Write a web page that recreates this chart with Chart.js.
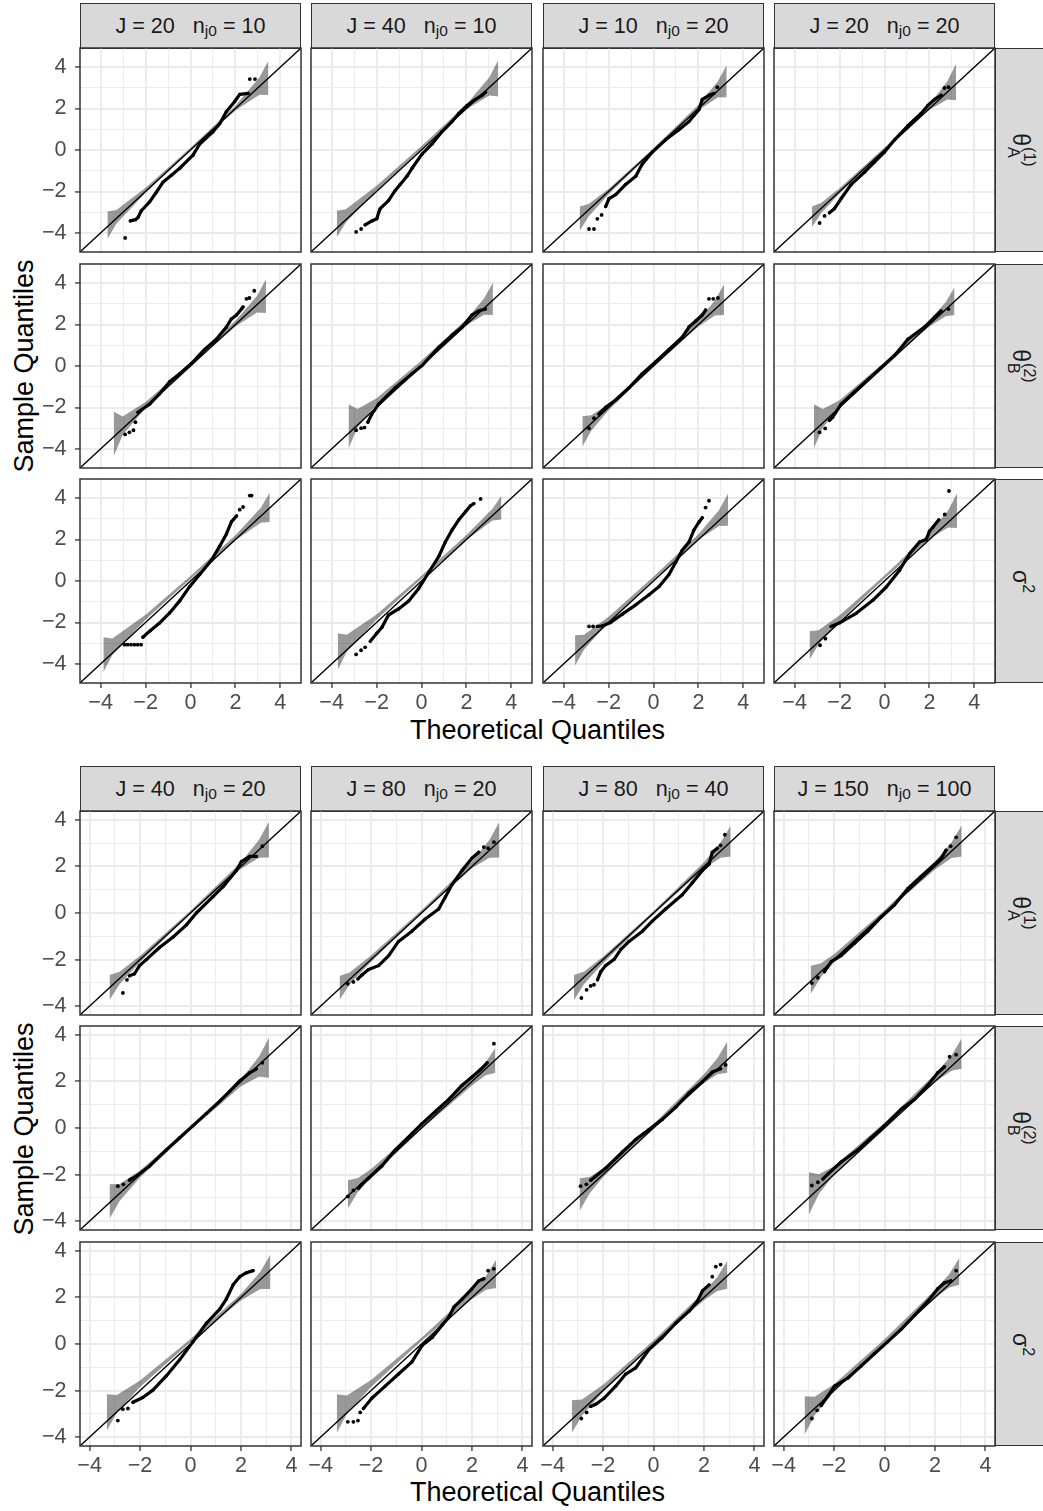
<!DOCTYPE html>
<html>
<head>
<meta charset="utf-8">
<title>Normal QQ plots of standardized estimates</title>
<script src="https://cdn.jsdelivr.net/npm/chart.js@4.4.1/dist/chart.umd.min.js"></script>
<style>
  html, body { margin: 0; padding: 0; background: #ffffff; }
  #page { position: relative; width: 1043px; height: 1511px; overflow: hidden; background: #ffffff;
          font-family: "Liberation Sans", Arial, Helvetica, sans-serif; }
  #page canvas { position: absolute; }
  .strip { position: absolute; box-sizing: border-box; background: #d9d9d9; border: 1.5px solid #333333;
           color: #1a1a1a; display: flex; align-items: center; justify-content: center; }
  .colstrip { font-size: 21.6px; white-space: pre; }
  .colstrip .sb { font-size: 15.5px; position: relative; top: 5px; }
  .rowlab { transform: rotate(90deg); font-size: 23px; white-space: nowrap; display: flex; align-items: center; }
  .ss { display: inline-flex; flex-direction: column; font-size: 16px; line-height: 1.0; margin-left: 1px; }
  .rowlab .sp { font-size: 16px; position: relative; top: -8px; }
  .axtitle { position: absolute; font-size: 27px; color: #000000; line-height: 27px; white-space: nowrap; }
</style>
</head>
<body>
<div id="page"></div>
<script>
// ---- facet headers ----
const TOP_J = [20, 40, 10, 20];
const TOP_NJ0 = [10, 10, 20, 20];
const BOTTOM_J = [40, 80, 80, 150];
const BOTTOM_NJ0 = [20, 20, 40, 100];
const ROW_LABELS = [
  'θ<span class="ss"><span>(1)</span><span>A</span></span>',
  'θ<span class="ss"><span>(2)</span><span>B</span></span>',
  'σ<span class="sp">2</span>'
];
const AXIS_TICKS = [-4, -3, -2, -1, 0, 1, 2, 3, 4];
const TOP_RANGE = [-4.92, 4.92];
const BOTTOM_RANGE = [-4.38, 4.38];
const REFERENCE_LINE = [-6, 6];   // y = x

// ---- upper block: theta_A^(1) ----
const TOP_A_CURVE = [
  [[-2.68,-3.42],[-2.45,-3.36],[-2.34,-3.26],[-2.19,-2.93],[-1.82,-2.5],[-1.53,-2.05],[-1.23,-1.56],[-0.85,-1.22],[-0.48,-0.88],[0.11,-0.25],[0.41,0.29],[1.0,0.88],[1.30,1.27],[1.60,1.86],[1.97,2.34],[2.19,2.68],[2.57,2.73]],
  [[-2.51,-3.61],[-2.21,-3.42],[-1.99,-3.32],[-1.91,-3.03],[-1.84,-2.83],[-1.47,-2.44],[-1.17,-1.95],[-0.95,-1.66],[-0.65,-1.27],[-0.42,-0.88],[0.02,-0.2],[0.47,0.29],[0.91,0.88],[1.36,1.37],[1.66,1.76],[2.03,2.15],[2.40,2.44],[2.70,2.64],[2.85,2.79]],
  [[-2.13,-2.73],[-1.98,-2.34],[-1.68,-2.15],[-1.24,-1.66],[-0.79,-1.27],[-0.50,-0.68],[-0.05,-0.10],[0.54,0.49],[1.13,0.98],[1.58,1.37],[1.80,1.66],[2.03,1.95],[2.17,2.44],[2.47,2.64],[2.69,2.73]],
  [[-2.45,-3.03],[-2.23,-2.83],[-1.93,-2.34],[-1.48,-1.66],[-0.89,-1.07],[-0.45,-0.59],[0,-0.1],[0.45,0.49],[1.04,1.17],[1.63,1.76],[1.93,2.15],[2.23,2.44],[2.52,2.64]]
];
const TOP_A_DOTS = [
  [[-2.91,-4.24],[2.64,3.42],[2.87,3.42]],
  [[-2.91,-3.95],[-2.69,-3.81]],
  [[-2.87,-3.81],[-2.65,-3.81],[-2.5,-3.32],[-2.31,-3.13],[2.84,3.03]],
  [[-2.89,-3.52],[-2.67,-3.18],[2.67,2.99],[2.85,3.03]]
];
const TOP_A_BAND_X = [
  [-3.70,-3.30,-2,0,2,3.07,3.47], [-3.77,-3.37,-2,0,2,3.02,3.42],
  [-3.29,-2.89,-2,0,2,2.86,3.26], [-3.23,-2.83,-2,0,2,2.79,3.19]
];
const TOP_A_BAND_LO = [
  [-4.29,-3.56,-2.06,-0.03,1.90,2.67,2.65], [-4.21,-3.50,-1.96,0.05,1.96,2.63,2.58],
  [-3.91,-3.21,-2.14,-0.05,1.92,2.53,2.54], [-3.71,-3.06,-2.10,-0.02,1.94,2.43,2.40]
];
const TOP_A_BAND_HI = [
  [-2.97,-2.90,-1.82,0.11,2.14,3.51,4.31], [-2.93,-2.86,-1.72,0.19,2.20,3.51,4.34],
  [-2.73,-2.61,-1.88,0.09,2.18,3.31,4.10], [-2.73,-2.56,-1.84,0.12,2.20,3.31,4.16]
];

// ---- upper block: theta_B^(2) ----
const TOP_B_CURVE = [
  [[-2.34,-2.23],[-1.82,-1.84],[-1.38,-1.35],[-0.93,-0.76],[-0.48,-0.37],[0.04,0.12],[0.63,0.80],[1.15,1.29],[1.60,1.88],[1.82,2.27],[2.05,2.46],[2.27,2.75],[2.34,2.85]],
  [[-2.39,-2.71],[-2.21,-2.32],[-1.91,-1.84],[-1.17,-1.05],[-0.42,-0.37],[0.02,0.02],[0.77,0.90],[1.36,1.48],[1.81,1.88],[2.25,2.46],[2.55,2.66],[2.85,2.75]],
  [[-2.43,-2.32],[-2.13,-1.99],[-1.68,-1.64],[-1.09,-1.05],[-0.50,-0.37],[0.10,0.21],[0.69,0.80],[1.28,1.39],[1.58,1.88],[1.88,2.17],[2.17,2.46],[2.32,2.70]],
  [[-2.45,-2.62],[-2.3,-2.46],[-1.93,-1.84],[-1.34,-1.25],[-0.74,-0.66],[-0.15,-0.08],[0.45,0.51],[1.04,1.29],[1.78,1.88],[2.23,2.36],[2.52,2.66]]
];
const TOP_B_DOTS = [
  [[-2.91,-3.3],[-2.72,-3.2],[-2.54,-3.1],[-2.45,-2.71],[2.49,3.24],[2.62,3.28],[2.84,3.63]],
  [[-2.91,-3.1],[-2.69,-3.0],[-2.54,-2.97]],
  [[-2.87,-3.01],[-2.65,-2.52],[2.47,3.24],[2.66,3.24],[2.87,3.28]],
  [[-2.89,-3.20],[-2.64,-3.01],[2.85,2.75]]
];
const TOP_B_BAND_X = [
  [-3.42,-3.02,-2,0,2,2.96,3.36], [-3.25,-2.85,-2,0,2,2.78,3.18],
  [-3.17,-2.77,-2,0,2,2.74,3.14], [-3.15,-2.75,-2,0,2,2.72,3.12]
];
const TOP_B_BAND_LO = [
  [-4.35,-3.33,-2.02,0.01,1.90,2.58,2.56], [-3.98,-2.97,-1.86,0.13,1.96,2.47,2.46],
  [-3.90,-3.12,-2.13,-0.03,1.91,2.43,2.46], [-3.98,-2.98,-1.97,0.05,1.90,2.40,2.46]
];
const TOP_B_BAND_HI = [
  [-2.19,-2.43,-1.74,0.15,2.18,3.38,4.18], [-1.84,-2.07,-1.56,0.27,2.26,3.25,4.02],
  [-2.42,-2.38,-1.83,0.11,2.21,3.17,3.94], [-1.84,-2.08,-1.65,0.19,2.20,3.08,3.80]
];

// ---- upper block: sigma^2 ----
const TOP_S_CURVE = [
  [[-2.12,-2.71],[-1.82,-2.42],[-1.38,-2.03],[-0.93,-1.54],[-0.48,-0.96],[-0.04,-0.27],[0.41,0.31],[0.93,1.0],[1.30,1.68],[1.60,2.27],[1.82,2.85],[2.05,3.14]],
  [[-2.28,-2.91],[-1.99,-2.52],[-1.76,-2.23],[-1.47,-1.64],[-1.02,-1.35],[-0.57,-0.96],[-0.13,-0.37],[0.32,0.41],[0.77,1.19],[1.06,1.88],[1.36,2.46],[1.66,2.95],[1.96,3.34],[2.18,3.63],[2.33,3.73]],
  [[-2.5,-2.19],[-2.28,-2.17],[-1.91,-2.0],[-1.39,-1.6],[-0.79,-1.15],[-0.20,-0.66],[0.25,-0.27],[0.69,0.31],[0.99,0.90],[1.28,1.48],[1.58,1.88],[1.80,2.46],[2.03,2.85],[2.17,3.05]],
  [[-2.38,-2.19],[-2.0,-2.02],[-1.26,-1.56],[-0.52,-0.93],[0.08,-0.29],[0.67,0.52],[1.12,1.32],[1.56,1.88],[1.86,2.0],[2.0,2.4],[2.16,2.6],[2.42,2.95]]
];
const TOP_S_DOTS = [
  [[-2.94,-3.07],[-2.8,-3.07],[-2.65,-3.07],[-2.5,-3.07],[-2.35,-3.07],[-2.2,-3.07],[2.19,3.44],[2.34,3.57],[2.64,4.12],[2.72,4.12]],
  [[-2.91,-3.54],[-2.69,-3.34],[-2.51,-3.2],[2.63,3.96]],
  [[-2.87,-2.19],[-2.69,-2.19],[2.32,3.54],[2.47,3.87]],
  [[-2.87,-3.10],[-2.63,-2.78],[2.68,3.21],[2.87,4.34]]
];
const TOP_S_BAND_X = [
  [-3.88,-3.48,-2,0,2,3.13,3.53], [-3.73,-3.33,-2,0,2,3.16,3.56],
  [-3.49,-3.09,-2,0,2,2.92,3.32], [-3.34,-2.94,-2,0,2,2.83,3.23]
];
const TOP_S_BAND_LO = [
  [-4.39,-3.57,-1.87,0.10,1.97,2.81,2.85], [-4.28,-3.43,-1.86,0.11,1.98,2.92,2.97],
  [-4.08,-3.31,-1.99,0.06,1.99,2.65,2.66], [-3.80,-3.06,-1.93,0.12,2.03,2.58,2.56]
];
const TOP_S_BAND_HI = [
  [-2.71,-2.77,-1.63,0.24,2.21,3.53,4.27], [-2.52,-2.59,-1.62,0.25,2.22,3.49,4.11],
  [-2.62,-2.59,-1.73,0.20,2.25,3.43,4.22], [-2.42,-2.38,-1.65,0.26,2.31,3.40,4.22]
];

// ---- lower block: theta_A^(1) ----
const BOT_A_CURVE = [
  [[-2.42,-2.70],[-2.22,-2.61],[-2.02,-2.26],[-1.75,-2.0],[-1.23,-1.48],[-0.70,-1.04],[-0.17,-0.52],[0.23,0],[0.89,0.70],[1.29,1.13],[1.82,1.83],[2.02,2.21],[2.35,2.43],[2.61,2.43]],
  [[-2.52,-2.83],[-2.36,-2.66],[-2.10,-2.43],[-1.70,-2.26],[-1.30,-1.83],[-0.91,-1.22],[-0.38,-0.78],[0.15,-0.26],[0.68,0.17],[0.95,0.70],[1.21,1.22],[1.61,1.83],[2.0,2.35],[2.27,2.61]],
  [[-2.22,-2.87],[-2.09,-2.52],[-1.90,-2.26],[-1.57,-2.0],[-1.30,-1.57],[-0.97,-1.22],[-0.44,-0.78],[-0.05,-0.35],[0.48,0.17],[1.14,0.78],[1.54,1.30],[1.94,1.83],[2.20,2.09],[2.33,2.61],[2.53,2.78]],
  [[-2.38,-2.52],[-2.11,-2.09],[-1.72,-1.83],[-1.19,-1.30],[-0.66,-0.78],[-0.13,-0.17],[0.40,0.35],[0.92,1.04],[1.45,1.57],[1.98,2.09],[2.25,2.35],[2.44,2.70]]
];
const BOT_A_DOTS = [
  [[-2.68,-3.43],[-2.52,-2.87],[2.85,2.87]],
  [[-2.92,-3.04],[-2.70,-2.96],[2.47,2.83],[2.64,2.78],[2.87,3.04]],
  [[-2.86,-3.65],[-2.65,-3.30],[-2.49,-3.13],[-2.36,-3.08],[2.66,2.90],[2.83,3.36]],
  [[-2.88,-3.01],[-2.64,-2.78],[2.62,2.87],[2.84,3.25]]
];
const BOT_A_BAND_X = [
  [-3.21,-2.81,-2,0,2,2.71,3.11], [-3.25,-2.85,-2,0,2,2.69,3.09],
  [-3.15,-2.75,-2,0,2,2.66,3.06], [-2.93,-2.53,-2,0,2,2.66,3.06]
];
const BOT_A_BAND_LO = [
  [-3.74,-3.06,-2.12,-0.04,1.90,2.37,2.38], [-3.74,-3.07,-2.09,-0.02,1.92,2.37,2.38],
  [-3.74,-3.05,-2.16,-0.06,1.90,2.37,2.43], [-3.48,-2.77,-2.11,-0.02,1.87,2.36,2.43]
];
const BOT_A_BAND_HI = [
  [-2.66,-2.52,-1.84,0.10,2.18,3.13,3.92], [-2.70,-2.55,-1.83,0.12,2.20,3.13,3.92],
  [-2.66,-2.51,-1.88,0.08,2.18,3.03,3.75], [-2.26,-2.17,-1.77,0.12,2.21,3.04,3.77]
];

// ---- lower block: theta_B^(2) ----
const BOT_B_CURVE = [
  [[-2.42,-2.24],[-2.15,-2.07],[-1.62,-1.63],[-0.96,-0.94],[-0.43,-0.42],[0.10,0.10],[0.63,0.63],[1.16,1.15],[1.56,1.58],[1.95,2.02],[2.35,2.37],[2.61,2.54]],
  [[-2.50,-2.59],[-2.36,-2.42],[-2.10,-2.16],[-1.57,-1.63],[-1.04,-0.94],[-0.38,-0.24],[0.02,0.19],[0.55,0.71],[1.08,1.23],[1.61,1.84],[2.0,2.19],[2.33,2.50],[2.60,2.80]],
  [[-2.49,-2.24],[-2.29,-2.07],[-1.90,-1.73],[-1.23,-1.03],[-0.71,-0.50],[-0.18,-0.07],[0.35,0.37],[0.88,0.89],[1.41,1.50],[1.93,1.98],[2.33,2.40],[2.66,2.54]],
  [[-2.44,-2.19],[-2.25,-1.98],[-1.72,-1.46],[-1.06,-0.94],[-0.53,-0.42],[0,0.10],[0.66,0.80],[1.19,1.23],[1.72,1.84],[2.11,2.37],[2.38,2.63]]
];
const BOT_B_DOTS = [
  [[-2.88,-2.50],[-2.66,-2.42],[2.85,2.80]],
  [[-2.92,-2.94],[-2.70,-2.68],[2.87,3.62]],
  [[-2.89,-2.50],[-2.66,-2.42],[2.86,2.71]],
  [[-2.88,-2.47],[-2.64,-2.33],[2.58,3.06],[2.84,3.15]]
];
const BOT_B_BAND_X = [
  [-3.21,-2.81,-2,0,2,2.71,3.11], [-2.92,-2.52,-2,0,2,2.53,2.93],
  [-2.93,-2.53,-2,0,2,2.53,2.93], [-3.00,-2.60,-2,0,2,2.66,3.06]
];
const BOT_B_BAND_LO = [
  [-3.90,-3.14,-2.13,-0.09,1.79,2.20,2.16], [-3.46,-2.75,-2.12,-0.04,1.82,2.25,2.37],
  [-3.56,-2.80,-2.11,0.03,1.93,2.31,2.37], [-3.72,-2.83,-2.00,0.09,1.97,2.46,2.54]
];
const BOT_B_BAND_HI = [
  [-2.42,-2.40,-1.83,0.05,2.09,3.06,3.88], [-2.24,-2.15,-1.76,0.10,2.18,2.79,3.45],
  [-2.16,-2.10,-1.73,0.17,2.31,2.99,3.73], [-1.90,-1.99,-1.64,0.23,2.31,3.12,3.84]
];

// ---- lower block: sigma^2 ----
const BOT_S_CURVE = [
  [[-2.28,-2.50],[-1.89,-2.30],[-1.49,-1.98],[-0.96,-1.37],[-0.43,-0.68],[0.10,0.10],[0.63,0.89],[1.16,1.50],[1.42,1.93],[1.69,2.54],[1.95,2.89],[2.22,3.06],[2.48,3.15]],
  [[-2.30,-2.77],[-1.97,-2.33],[-1.44,-1.81],[-0.91,-1.29],[-0.38,-0.77],[0.02,-0.07],[0.42,0.28],[0.81,0.80],[1.08,1.15],[1.28,1.58],[1.61,1.93],[2.0,2.37],[2.27,2.71],[2.47,2.80]],
  [[-2.49,-2.68],[-2.29,-2.59],[-1.96,-2.33],[-1.50,-1.81],[-1.10,-1.29],[-0.71,-1.03],[-0.18,-0.24],[0.35,0.28],[0.88,0.89],[1.41,1.41],[1.74,1.84],[1.94,2.28],[2.20,2.54]],
  [[-2.51,-2.64],[-2.25,-2.24],[-1.98,-1.81],[-1.45,-1.46],[-0.92,-0.94],[-0.40,-0.42],[0.13,0.10],[0.66,0.63],[1.19,1.23],[1.72,1.84],[2.11,2.37],[2.38,2.63],[2.64,2.71]]
];
const BOT_S_DOTS = [
  [[-2.88,-3.29],[-2.68,-2.80],[-2.48,-2.77]],
  [[-2.92,-3.34],[-2.70,-3.34],[-2.52,-3.29],[-2.43,-2.94],[2.64,3.15],[2.87,3.23]],
  [[-2.86,-3.20],[-2.65,-2.94],[2.33,2.89],[2.47,3.32],[2.66,3.41]],
  [[-2.88,-3.20],[-2.67,-2.85],[2.84,3.15]]
];
const BOT_S_BAND_X = [
  [-3.32,-2.92,-2,0,2,2.77,3.17], [-3.36,-2.96,-2,0,2,2.56,2.96],
  [-3.24,-2.84,-2,0,2,2.53,2.93], [-3.17,-2.77,-2,0,2,2.57,2.97]
];
const BOT_S_BAND_LO = [
  [-3.72,-2.95,-1.85,0.08,1.87,2.36,2.36], [-3.82,-3.01,-1.85,0.13,1.93,2.33,2.40],
  [-3.82,-3.08,-2.05,0.01,1.88,2.28,2.37], [-3.90,-3.06,-2.05,0.06,1.98,2.43,2.54]
];
const BOT_S_BAND_HI = [
  [-2.16,-2.19,-1.57,0.22,2.15,3.10,3.84], [-2.16,-2.21,-1.55,0.27,2.27,2.93,3.62],
  [-2.42,-2.38,-1.75,0.15,2.24,2.88,3.59], [-2.24,-2.26,-1.73,0.20,2.32,3.01,3.70]
];

// ---- page layout ----
const page = document.getElementById('page');
const PANEL_LEFT = [80, 311, 543, 774];
const PANEL_W = 221, PANEL_H = 204;
const PAD = 10, Y_AXIS_W = 80, X_AXIS_H = 40, STRIP = 45;

Chart.defaults.font.family = '"Liberation Sans", Arial, Helvetica, sans-serif';

const BLOCKS = [
  { range: TOP_RANGE, rowTops: [48, 264, 479], J: TOP_J, N: TOP_NJ0, xTitleY: 729.5,
    rows: [
      [TOP_A_CURVE, TOP_A_DOTS, TOP_A_BAND_X, TOP_A_BAND_LO, TOP_A_BAND_HI],
      [TOP_B_CURVE, TOP_B_DOTS, TOP_B_BAND_X, TOP_B_BAND_LO, TOP_B_BAND_HI],
      [TOP_S_CURVE, TOP_S_DOTS, TOP_S_BAND_X, TOP_S_BAND_LO, TOP_S_BAND_HI]
    ] },
  { range: BOTTOM_RANGE, rowTops: [811, 1026, 1242], J: BOTTOM_J, N: BOTTOM_NJ0, xTitleY: 1492,
    rows: [
      [BOT_A_CURVE, BOT_A_DOTS, BOT_A_BAND_X, BOT_A_BAND_LO, BOT_A_BAND_HI],
      [BOT_B_CURVE, BOT_B_DOTS, BOT_B_BAND_X, BOT_B_BAND_LO, BOT_B_BAND_HI],
      [BOT_S_CURVE, BOT_S_DOTS, BOT_S_BAND_X, BOT_S_BAND_LO, BOT_S_BAND_HI]
    ] }
];

const isMajor = v => Math.abs(v) % 2 === 0;
const fmt = v => (v < 0 ? '\u2212' + Math.abs(v) : String(v));
const toXY = list => list.map(p => ({ x: p[0], y: p[1] }));
const zipXY = (xs, ys) => xs.map((x, i) => ({ x: x, y: ys[i] }));

// dark frame round each panel
const panelFrame = {
  id: 'panelFrame',
  afterDraw(chart) {
    const a = chart.chartArea, ctx = chart.ctx;
    ctx.save();
    ctx.strokeStyle = '#333333';
    ctx.lineWidth = 1.5;
    ctx.strokeRect(a.left, a.top, a.right - a.left, a.bottom - a.top);
    ctx.restore();
  }
};

function axisOptions(range, show, horizontal) {
  return {
    type: 'linear', min: range[0], max: range[1],
    afterBuildTicks: s => { s.ticks = AXIS_TICKS.map(v => ({ value: v })); },
    afterFit: s => {
      if (horizontal) s.height = show ? X_AXIS_H : 0;
      else s.width = show ? Y_AXIS_W : 0;
      // tick labels may spill past the panel edge; keep the panel size fixed
      s.paddingLeft = 0; s.paddingRight = 0; s.paddingTop = 0; s.paddingBottom = 0;
    },
    border: { display: false },
    grid: {
      color: '#ebebeb',
      lineWidth: c => (c.tick && isMajor(c.tick.value)) ? 1.9 : 0.95,
      drawTicks: show, tickLength: 5, tickWidth: 1.3,
      tickColor: c => (c.tick && isMajor(c.tick.value)) ? '#333333' : 'rgba(0,0,0,0)'
    },
    ticks: {
      display: show, autoSkip: false, maxRotation: 0, minRotation: 0,
      padding: horizontal ? 2 : 8.5, color: '#4d4d4d', font: { size: 21.6 },
      callback: v => isMajor(v) ? fmt(v) : ''
    }
  };
}

function addPanel(left, top, range, showX, showY, curve, dots, bx, lo, hi) {
  const padL = showY ? Y_AXIS_W : PAD;
  const padB = showX ? X_AXIS_H : PAD;
  const w = PANEL_W + padL + PAD, h = PANEL_H + PAD + padB;
  const cv = document.createElement('canvas');
  cv.width = w; cv.height = h;
  cv.style.left = (left - padL) + 'px';
  cv.style.top = (top - PAD) + 'px';
  cv.style.width = w + 'px';
  cv.style.height = h + 'px';
  page.appendChild(cv);
  new Chart(cv, {
    type: 'scatter',
    data: {
      datasets: [
        { data: REFERENCE_LINE.map(v => ({ x: v, y: v })), showLine: true,
          borderColor: '#000000', borderWidth: 1.3, pointRadius: 0 },
        { data: toXY(dots), showLine: false, pointRadius: 1.9,
          pointBackgroundColor: '#000000', pointBorderWidth: 0 },
        { data: toXY(curve), showLine: true, borderColor: '#000000', borderWidth: 3.2,
          borderCapStyle: 'round', borderJoinStyle: 'round', tension: 0,
          pointRadius: 1.7, pointBackgroundColor: '#000000', pointBorderWidth: 0 },
        { data: zipXY(bx, hi), showLine: true, borderWidth: 0, borderColor: 'rgba(0,0,0,0)',
          pointRadius: 0, fill: '+1', backgroundColor: 'rgba(0,0,0,0.4)' },
        { data: zipXY(bx, lo), showLine: true, borderWidth: 0, borderColor: 'rgba(0,0,0,0)',
          pointRadius: 0, fill: false }
      ]
    },
    options: {
      responsive: false, animation: false, devicePixelRatio: 1, events: [],
      layout: { padding: { left: showY ? 0 : PAD, right: PAD, top: PAD, bottom: showX ? 0 : PAD } },
      plugins: { legend: { display: false }, tooltip: { enabled: false } },
      scales: { x: axisOptions(range, showX, true), y: axisOptions(range, showY, false) }
    },
    plugins: [panelFrame]
  });
}

function addDiv(cls, html, css) {
  const d = document.createElement('div');
  d.className = cls;
  d.innerHTML = html;
  Object.assign(d.style, css);
  page.appendChild(d);
  return d;
}

BLOCKS.forEach(block => {
  const firstTop = block.rowTops[0];
  const lastBottom = block.rowTops[2] + PANEL_H;
  // column strips
  PANEL_LEFT.forEach((left, c) => {
    addDiv('strip colstrip', 'J = ' + block.J[c] + '   n<span class="sb">j0</span> = ' + block.N[c],
      { left: left + 'px', top: (firstTop - STRIP) + 'px', width: PANEL_W + 'px', height: (STRIP + 0.5) + 'px' });
  });
  // row strips
  block.rowTops.forEach((top, r) => {
    addDiv('strip', '<div class="rowlab">' + ROW_LABELS[r] + '</div>',
      { left: (PANEL_LEFT[3] + PANEL_W) + 'px', top: top + 'px', width: '52px', height: PANEL_H + 'px' });
  });
  // axis titles
  addDiv('axtitle', 'Sample Quantiles',
    { left: '24px', top: ((firstTop + lastBottom) / 2) + 'px', transform: 'translate(-50%,-50%) rotate(-90deg)' });
  addDiv('axtitle', 'Theoretical Quantiles',
    { left: ((PANEL_LEFT[0] + PANEL_LEFT[3] + PANEL_W) / 2) + 'px', top: block.xTitleY + 'px', transform: 'translate(-50%,-50%)' });
  // panels
  block.rows.forEach((row, r) => {
    PANEL_LEFT.forEach((left, c) => {
      addPanel(left, block.rowTops[r], block.range, r === 2, c === 0,
        row[0][c], row[1][c], row[2][c], row[3][c], row[4][c]);
    });
  });
});
</script>
</body>
</html>
